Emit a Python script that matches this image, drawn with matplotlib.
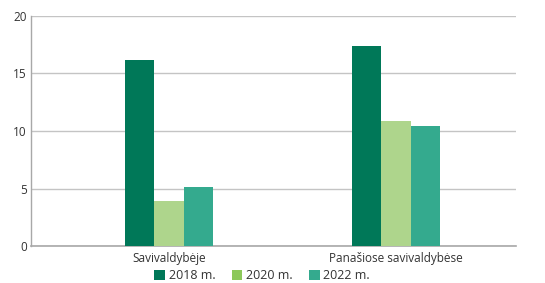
import numpy as np
import matplotlib
matplotlib.use('Agg')
import matplotlib.pyplot as plt
from matplotlib.patches import Patch

plt.rcParams['font.family'] = ['Open Sans', 'DejaVu Sans']

# Duomenys
categories = ['Savivaldybėje', 'Panašiose savivaldybėse']
series_names = ['2018 m.', '2020 m.', '2022 m.']
values_2018 = [16.2, 17.4]
values_2020 = [3.9, 10.9]
values_2022 = [5.1, 10.4]

bar_colors = ['#007858', '#aed58c', '#34aa8e']
legend_colors = ['#007858', '#8cc85a', '#34aa8e']

fig = plt.figure(figsize=(5.45, 2.83), dpi=100)
ax = fig.add_axes([0.0569, 0.1307, 0.8899, 0.8128])

x = np.arange(len(categories))
width = 0.13
for i, (vals, col) in enumerate(zip([values_2018, values_2020, values_2022], bar_colors)):
    ax.bar(x + (i - 1) * width, vals, width=width, color=col, zorder=3)

ax.set_xlim(-0.608, 0.529 + 1)
ax.set_ylim(0, 20)
ax.set_yticks([0, 5, 10, 15, 20])
ax.set_xticks(x)
ax.set_xticklabels(categories)
ax.grid(axis='y', color='#c4c4c4', linewidth=1, zorder=0)
ax.tick_params(axis='both', length=0, labelsize=8.5, colors='#333333')
ax.tick_params(axis='y', pad=3)
ax.tick_params(axis='x', pad=4)
for side in ['top', 'right']:
    ax.spines[side].set_visible(False)
ax.spines['left'].set_color('#a8a8a8')
ax.spines['bottom'].set_color('#a8a8a8')
ax.spines['left'].set_linewidth(1)
ax.spines['bottom'].set_linewidth(1.2)

handles = [Patch(facecolor=c, edgecolor='none') for c in legend_colors]
fig.legend(handles, series_names, loc='center', bbox_to_anchor=(0.481, 0.026),
           ncol=3, frameon=False, fontsize=9, handlelength=0.85, handleheight=0.85,
           handletextpad=0.3, columnspacing=1.3, labelcolor='#333333',
           borderpad=0)

fig.savefig('out.png', dpi=100)
